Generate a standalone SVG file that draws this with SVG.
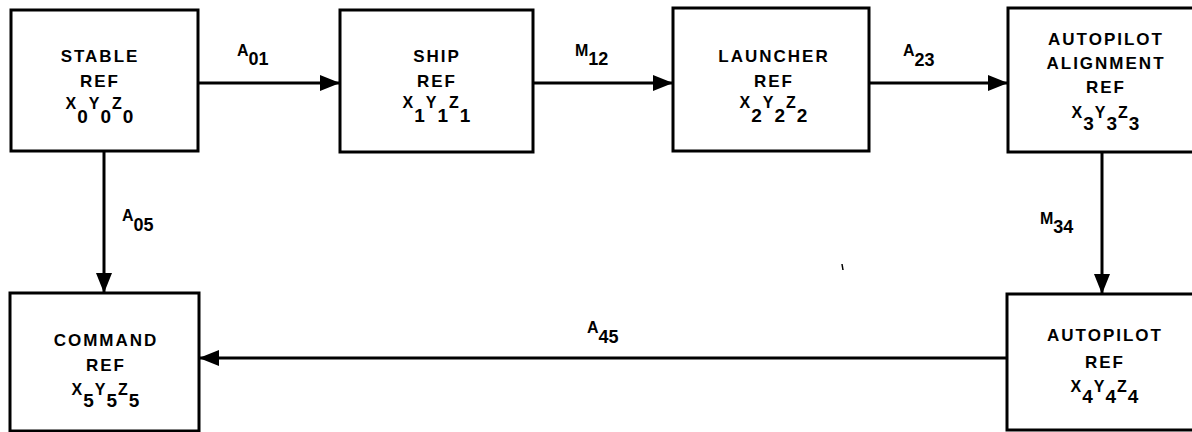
<svg xmlns="http://www.w3.org/2000/svg" width="1192" height="432" viewBox="0 0 1192 432">
<style>
.box{fill:#fff;stroke:#000;stroke-width:3}
.ln{fill:none;stroke:#000;stroke-width:3}
text{font-family:"Liberation Sans",Arial,sans-serif;font-weight:bold;fill:#000}
.t{font-size:17px;letter-spacing:2px;text-anchor:middle}
.v{font-size:17px;letter-spacing:1px;text-anchor:middle}
.m{font-size:16px}
.s{font-size:19px}
.lm{font-size:16px}
.ls{font-size:18px}
</style>
<defs>
<marker id="ah" markerWidth="20" markerHeight="16" refX="20" refY="8" orient="auto" markerUnits="userSpaceOnUse">
<path d="M0,0 L20,8 L0,16 Z" fill="#000"/>
</marker>
</defs>
<rect width="1192" height="432" fill="#fff"/>
<g id="connectors">
<line class="ln" x1="198" y1="83" x2="340" y2="83" marker-end="url(#ah)"/>
<line class="ln" x1="533" y1="83" x2="673" y2="83" marker-end="url(#ah)"/>
<line class="ln" x1="869" y1="83" x2="1008" y2="83" marker-end="url(#ah)"/>
<line class="ln" x1="104" y1="151" x2="104" y2="293" marker-end="url(#ah)"/>
<line class="ln" x1="1102" y1="152" x2="1102" y2="294" marker-end="url(#ah)"/>
<line class="ln" x1="1007" y1="358" x2="199" y2="358" marker-end="url(#ah)"/>
<text x="237" y="56"><tspan class="lm">A</tspan><tspan class="ls" dy="9">01</tspan></text>
<text x="575" y="56"><tspan class="lm">M</tspan><tspan class="ls" dy="9">12</tspan></text>
<text x="903" y="56"><tspan class="lm">A</tspan><tspan class="ls" dy="10">23</tspan></text>
<text x="122" y="221"><tspan class="lm">A</tspan><tspan class="ls" dy="10">05</tspan></text>
<text x="1040" y="224"><tspan class="lm">M</tspan><tspan class="ls" dy="9">34</tspan></text>
<text x="587" y="333"><tspan class="lm">A</tspan><tspan class="ls" dy="10">45</tspan></text>
</g>
<g id="stable">
<rect class="box" x="11" y="10" width="187" height="141"/>
<text class="t" x="100" y="62">STABLE</text>
<text class="t" x="100" y="87">REF</text>
<text class="v" x="100" y="109"><tspan class="m">X</tspan><tspan class="s" dy="14">0</tspan><tspan class="m" dy="-14">Y</tspan><tspan class="s" dy="14">0</tspan><tspan class="m" dy="-14">Z</tspan><tspan class="s" dy="14">0</tspan></text>
</g>
<g id="ship">
<rect class="box" x="340" y="10" width="193" height="142"/>
<text class="t" x="437" y="62">SHIP</text>
<text class="t" x="437" y="87">REF</text>
<text class="v" x="437" y="108"><tspan class="m">X</tspan><tspan class="s" dy="14">1</tspan><tspan class="m" dy="-14">Y</tspan><tspan class="s" dy="14">1</tspan><tspan class="m" dy="-14">Z</tspan><tspan class="s" dy="14">1</tspan></text>
</g>
<g id="launcher">
<rect class="box" x="673" y="8" width="196" height="143"/>
<text class="t" x="774" y="62">LAUNCHER</text>
<text class="t" x="774" y="87">REF</text>
<text class="v" x="774" y="108"><tspan class="m">X</tspan><tspan class="s" dy="14">2</tspan><tspan class="m" dy="-14">Y</tspan><tspan class="s" dy="14">2</tspan><tspan class="m" dy="-14">Z</tspan><tspan class="s" dy="14">2</tspan></text>
</g>
<g id="autopilot-alignment">
<rect class="box" x="1008" y="8" width="190" height="144"/>
<text class="t" x="1106" y="45">AUTOPILOT</text>
<text class="t" x="1106" y="69">ALIGNMENT</text>
<text class="t" x="1106" y="93">REF</text>
<text class="v" x="1106" y="118"><tspan class="m">X</tspan><tspan class="s" dy="12">3</tspan><tspan class="m" dy="-12">Y</tspan><tspan class="s" dy="12">3</tspan><tspan class="m" dy="-12">Z</tspan><tspan class="s" dy="12">3</tspan></text>
</g>
<g id="command">
<rect class="box" x="10" y="293" width="189" height="138"/>
<text class="t" x="106" y="346">COMMAND</text>
<text class="t" x="106" y="371">REF</text>
<text class="v" x="106" y="395"><tspan class="m">X</tspan><tspan class="s" dy="12">5</tspan><tspan class="m" dy="-12">Y</tspan><tspan class="s" dy="12">5</tspan><tspan class="m" dy="-12">Z</tspan><tspan class="s" dy="12">5</tspan></text>
</g>
<g id="autopilot">
<rect class="box" x="1007" y="294" width="190" height="136"/>
<text class="t" x="1105" y="341">AUTOPILOT</text>
<text class="t" x="1105" y="368">REF</text>
<text class="v" x="1105" y="392"><tspan class="m">X</tspan><tspan class="s" dy="11">4</tspan><tspan class="m" dy="-11">Y</tspan><tspan class="s" dy="11">4</tspan><tspan class="m" dy="-11">Z</tspan><tspan class="s" dy="11">4</tspan></text>
</g>
<path d="M842,264 L843,270" stroke="#000" stroke-width="1.5"/>
</svg>
